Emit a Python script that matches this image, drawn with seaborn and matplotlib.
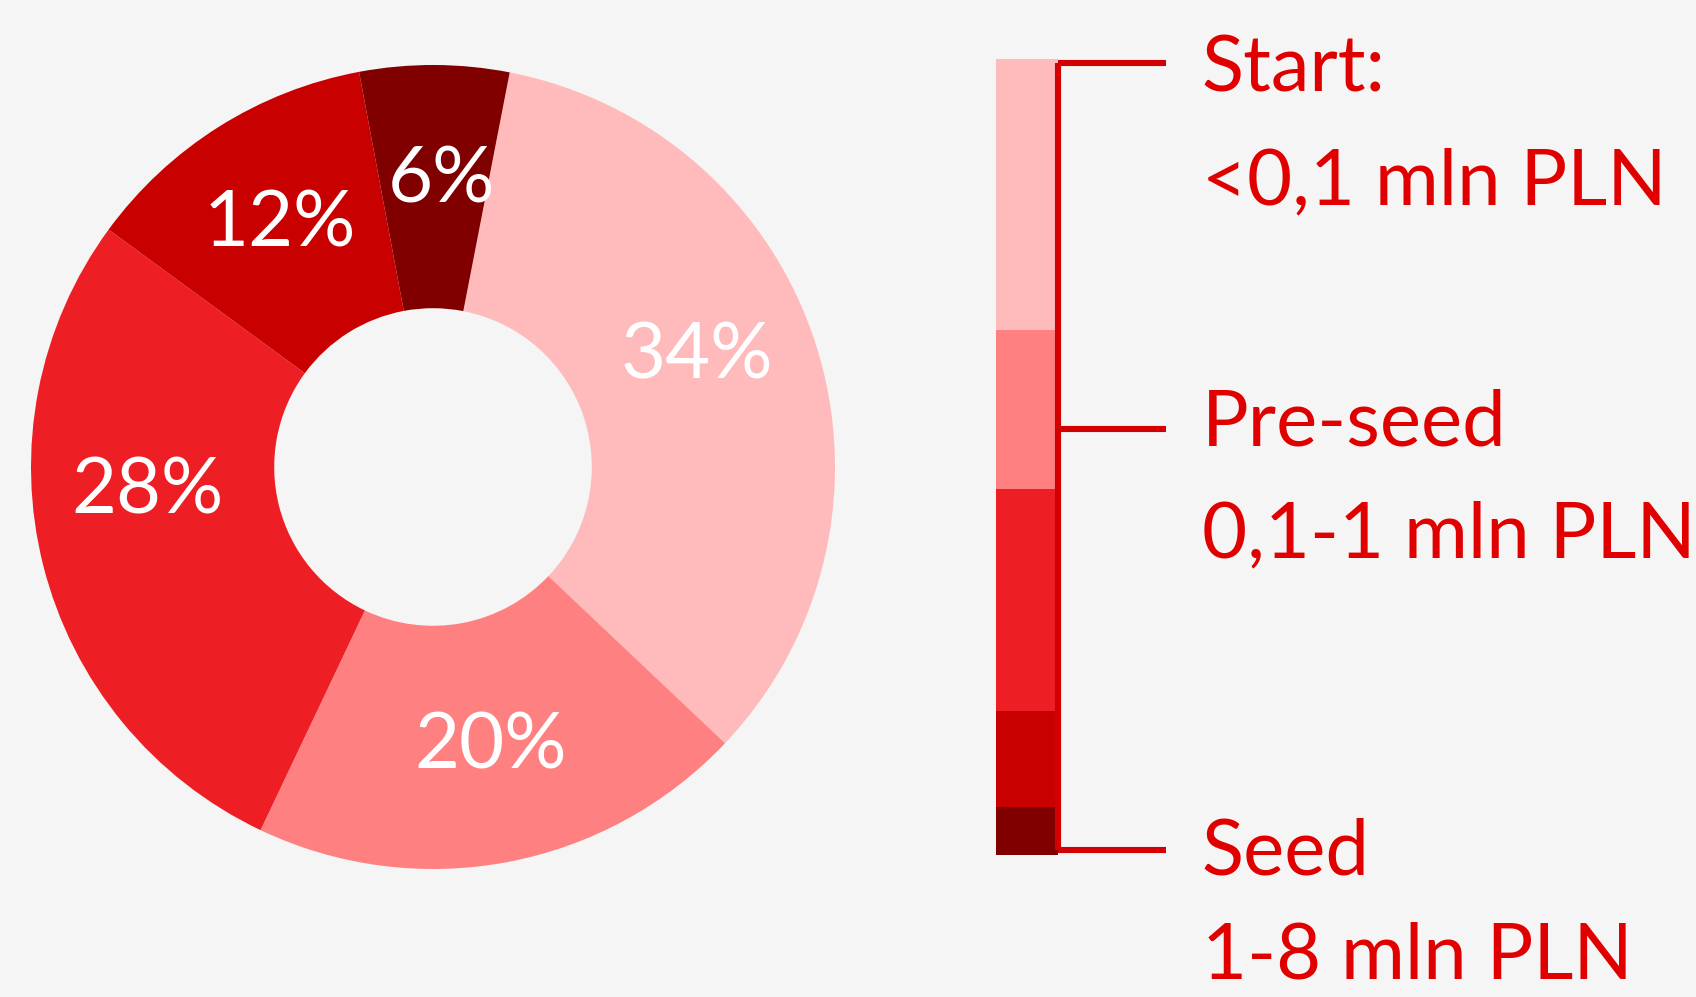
import matplotlib
matplotlib.use("Agg")
import matplotlib.pyplot as plt
import seaborn as sns
import numpy as np

# Share of startups by funding stage (%), clockwise from the top
shares = [34, 20, 28, 12, 6]
pct_labels = [f"{s}%" for s in shares]
slice_colors = ["#FFBBBB", "#FF8080", "#EE1F24", "#C80000", "#800000"]
# small nudges of the percent labels away from the exact mid-angle (degrees)
label_shift = [4.8, 1.0, -9.2, 0.2, -1.5]

stage_names = ["Start:", "Pre-seed", "Seed"]
stage_ranges = ["<0,1 mln PLN", "0,1-1 mln PLN", "1-8 mln PLN"]

BG = "#F5F5F5"
RED_TEXT = "#E00000"
RED_LINE = "#D20000"
W, H = 1696, 997

sns.set_theme(style="white", rc={"figure.facecolor": BG, "axes.facecolor": BG})
plt.rcParams["font.family"] = ["Lato", "DejaVu Sans"]
palette = sns.color_palette(slice_colors)

fig = plt.figure(figsize=(W / 100, H / 100), dpi=100)

# donut
cx, cy, r = 433, 467, 402
ax_pie = fig.add_axes([(cx - r) / W, (H - cy - r) / H, 2 * r / W, 2 * r / H])
ax_pie.pie(shares, colors=palette, startangle=79, counterclock=False,
           radius=1.0, wedgeprops=dict(width=0.605, linewidth=0))
ax_pie.set_xlim(-1, 1)
ax_pie.set_ylim(-1, 1)
ax_pie.set_aspect("equal")
ax_pie.axis("off")

# percent labels in the middle of each ring segment
angles = 79 - np.cumsum([0] + shares[:-1]) * 3.6 - np.array(shares) * 1.8 + np.array(label_shift)
for lab, ang in zip(pct_labels, angles):
    t = np.deg2rad(ang)
    ax_pie.text(0.712 * np.cos(t), 0.712 * np.sin(t), lab, ha="center", va="center",
                color="white", fontsize=56)

# stacked legend bar
bx0, bx1, by0, by1 = 996, 1058, 59.5, 854.5
ax_bar = fig.add_axes([bx0 / W, (H - by1) / H, (bx1 - bx0) / W, (by1 - by0) / H])
bottoms = np.cumsum([0] + shares[:-1])
for s, b, c in zip(shares, bottoms, palette):
    ax_bar.bar(0, s, bottom=b, width=1.0, color=c, linewidth=0)
ax_bar.set_xlim(-0.5, 0.5)
ax_bar.set_ylim(sum(shares), 0)
ax_bar.axis("off")

# bracket and stage labels (overlay in pixel coordinates)
ov = fig.add_axes([0, 0, 1, 1])
ov.set_xlim(0, W)
ov.set_ylim(H, 0)
ov.axis("off")
ov.patch.set_alpha(0)
ov.plot([1058, 1058], [63, 850], color=RED_LINE, lw=4.4, solid_capstyle="butt")
for ty in [63, 429, 850]:
    ov.plot([1058, 1166], [ty, ty], color=RED_LINE, lw=4.4, solid_capstyle="butt")

name_base = [92, 445.6, 874]
line_gap = [112, 112, 104]
for name, rng, yb, gap in zip(stage_names, stage_ranges, name_base, line_gap):
    ov.text(1202, yb, name, ha="left", va="baseline", color=RED_TEXT, fontsize=56)
    ov.text(1202, yb + gap, rng, ha="left", va="baseline", color=RED_TEXT, fontsize=56)

fig.savefig("out.png", dpi=100, facecolor=BG)
